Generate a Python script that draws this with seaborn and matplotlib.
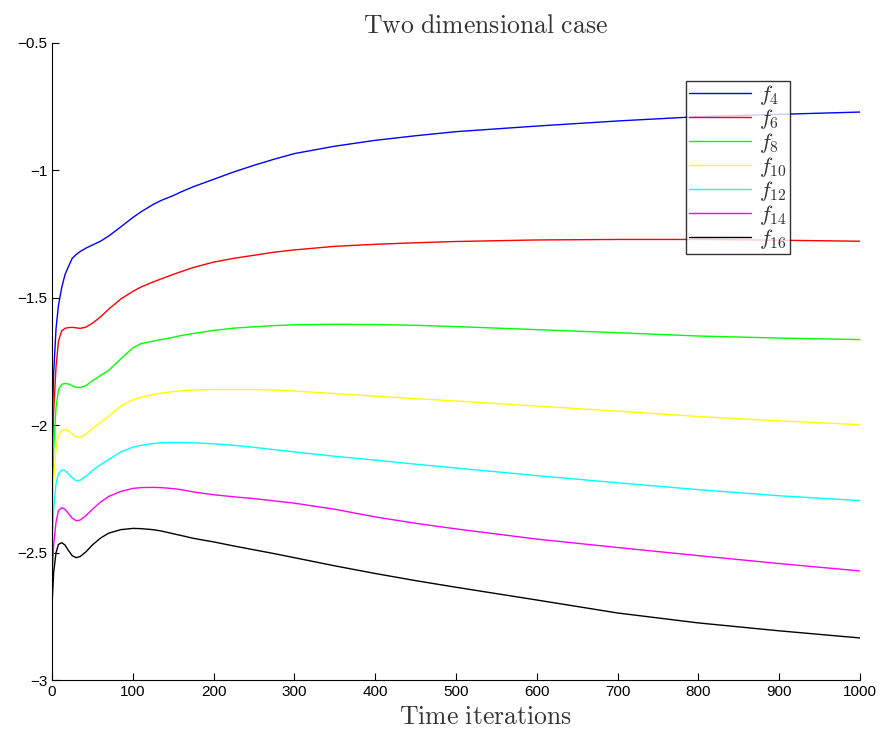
import pandas as pd
import matplotlib.pyplot as plt
import seaborn as sns

# time points
t = [0, 2, 5, 8, 12, 16, 20, 25, 30, 35, 42, 50, 60, 70, 85, 100, 110, 125, 135, 150, 160, 175,
     200, 225, 250, 275, 300, 350, 400, 450, 500, 600, 700, 800, 900, 1000]

f4 = [-2.02, -1.80, -1.62, -1.53, -1.46, -1.41, -1.38, -1.345, -1.330, -1.318, -1.305, -1.293,
      -1.278, -1.258, -1.222, -1.185, -1.163, -1.134, -1.118, -1.099, -1.084, -1.064,
      -1.035, -1.006, -0.980, -0.956, -0.934, -0.905, -0.882, -0.864, -0.848, -0.826, -0.806,
      -0.789, -0.780, -0.771]
f6 = [-2.15, -1.95, -1.77, -1.67, -1.630, -1.620, -1.617, -1.616, -1.618, -1.620, -1.615, -1.600,
      -1.575, -1.545, -1.505, -1.475, -1.458, -1.438, -1.426, -1.408, -1.397, -1.381,
      -1.360, -1.345, -1.333, -1.321, -1.312, -1.298, -1.290, -1.284, -1.279, -1.273, -1.271,
      -1.271, -1.274, -1.278]
f8 = [-2.38, -2.10, -1.93, -1.86, -1.840, -1.836, -1.838, -1.845, -1.851, -1.852, -1.845, -1.826,
      -1.805, -1.785, -1.740, -1.697, -1.680, -1.670, -1.664, -1.655, -1.648, -1.640,
      -1.628, -1.619, -1.614, -1.609, -1.606, -1.604, -1.605, -1.608, -1.613, -1.625, -1.637,
      -1.650, -1.658, -1.664]
f10 = [-2.42, -2.22, -2.09, -2.04, -2.020, -2.017, -2.022, -2.035, -2.046, -2.048, -2.035, -2.012,
       -1.990, -1.965, -1.925, -1.900, -1.891, -1.880, -1.874, -1.868, -1.865, -1.862,
       -1.860, -1.860, -1.860, -1.862, -1.866, -1.876, -1.886, -1.896, -1.905, -1.925, -1.945,
       -1.966, -1.983, -1.998]
f12 = [-2.50, -2.33, -2.23, -2.19, -2.176, -2.178, -2.190, -2.207, -2.218, -2.216, -2.200, -2.178,
       -2.155, -2.135, -2.105, -2.086, -2.079, -2.072, -2.069, -2.068, -2.068, -2.069,
       -2.073, -2.079, -2.087, -2.096, -2.105, -2.122, -2.137, -2.153, -2.168, -2.198, -2.226,
       -2.253, -2.277, -2.296]
f14 = [-2.61, -2.47, -2.38, -2.335, -2.324, -2.330, -2.345, -2.365, -2.375, -2.372, -2.355, -2.330,
       -2.302, -2.280, -2.260, -2.248, -2.245, -2.244, -2.245, -2.249, -2.253, -2.262,
       -2.273, -2.281, -2.288, -2.297, -2.306, -2.330, -2.360, -2.385, -2.407, -2.447, -2.480,
       -2.512, -2.543, -2.572]
f16 = [-2.71, -2.58, -2.50, -2.468, -2.461, -2.470, -2.490, -2.512, -2.520, -2.515, -2.497, -2.470,
       -2.443, -2.424, -2.410, -2.405, -2.406, -2.410, -2.415, -2.426, -2.433, -2.444,
       -2.458, -2.474, -2.489, -2.504, -2.520, -2.552, -2.582, -2.610, -2.636, -2.686, -2.737,
       -2.776, -2.807, -2.835]

labels = [r'$f_{4}$', r'$f_{6}$', r'$f_{8}$', r'$f_{10}$', r'$f_{12}$', r'$f_{14}$', r'$f_{16}$']
colors = ['#0000ff', '#ff0000', '#00ff00', '#ffff00', '#00ffff', '#ff00ff', '#000000']
yticks = [-3, -2.5, -2, -1.5, -1, -0.5]
ytick_labels = ['\u22123', '\u22122.5', '\u22122', '\u22121.5', '\u22121', '\u22120.5']
xticks = [0, 100, 200, 300, 400, 500, 600, 700, 800, 900, 1000]

series = [f4, f6, f8, f10, f12, f14, f16]
df = pd.concat([pd.DataFrame({'t': t, 'value': s, 'series': lab})
                for s, lab in zip(series, labels)], ignore_index=True)

sns.set_style('ticks')
plt.rcParams['mathtext.fontset'] = 'cm'
plt.rcParams['font.family'] = ['Liberation Sans', 'DejaVu Sans']

fig = plt.figure(figsize=(8.84, 7.31), dpi=100)
ax = fig.add_axes([52 / 884, 1 - 680 / 731, 808 / 884, 637 / 731])

sns.lineplot(data=df, x='t', y='value', hue='series', palette=colors, hue_order=labels,
             estimator=None, linewidth=1.0, ax=ax)

ax.set_xlim(0, 1000)
ax.set_ylim(-3, -0.5)
ax.set_xticks(xticks)
ax.set_yticks(yticks)
ax.set_yticklabels(ytick_labels)
ax.tick_params(direction='in', length=5, width=0.8, labelsize=11, colors='black')
for side in ['top', 'right']:
    ax.spines[side].set_visible(False)
for side in ['left', 'bottom']:
    ax.spines[side].set_color('black')
    ax.spines[side].set_linewidth(0.8)

ax.set_title(r'$\mathrm{Two\ dimensional\ case}$', fontsize=18.5, x=0.536, pad=7, color='#333333')
ax.set_xlabel(r'$\mathrm{Time\ iterations}$', fontsize=18.5, color='#333333')
ax.xaxis.set_label_coords(0.536, -0.04)
ax.set_ylabel('')

handles, labs = ax.get_legend_handles_labels()
leg = ax.legend(handles, labs, loc='upper left', bbox_to_anchor=(0.785, 0.941),
                borderaxespad=0, fontsize=16, handlelength=2.8, labelspacing=0.0,
                handletextpad=0.35, borderpad=0.12, frameon=True, fancybox=False)
leg.get_frame().set_edgecolor('black')
leg.get_frame().set_linewidth(1.0)
for txt in leg.get_texts():
    txt.set_color('#333333')

plt.savefig('out.png', dpi=100)
plt.close()
